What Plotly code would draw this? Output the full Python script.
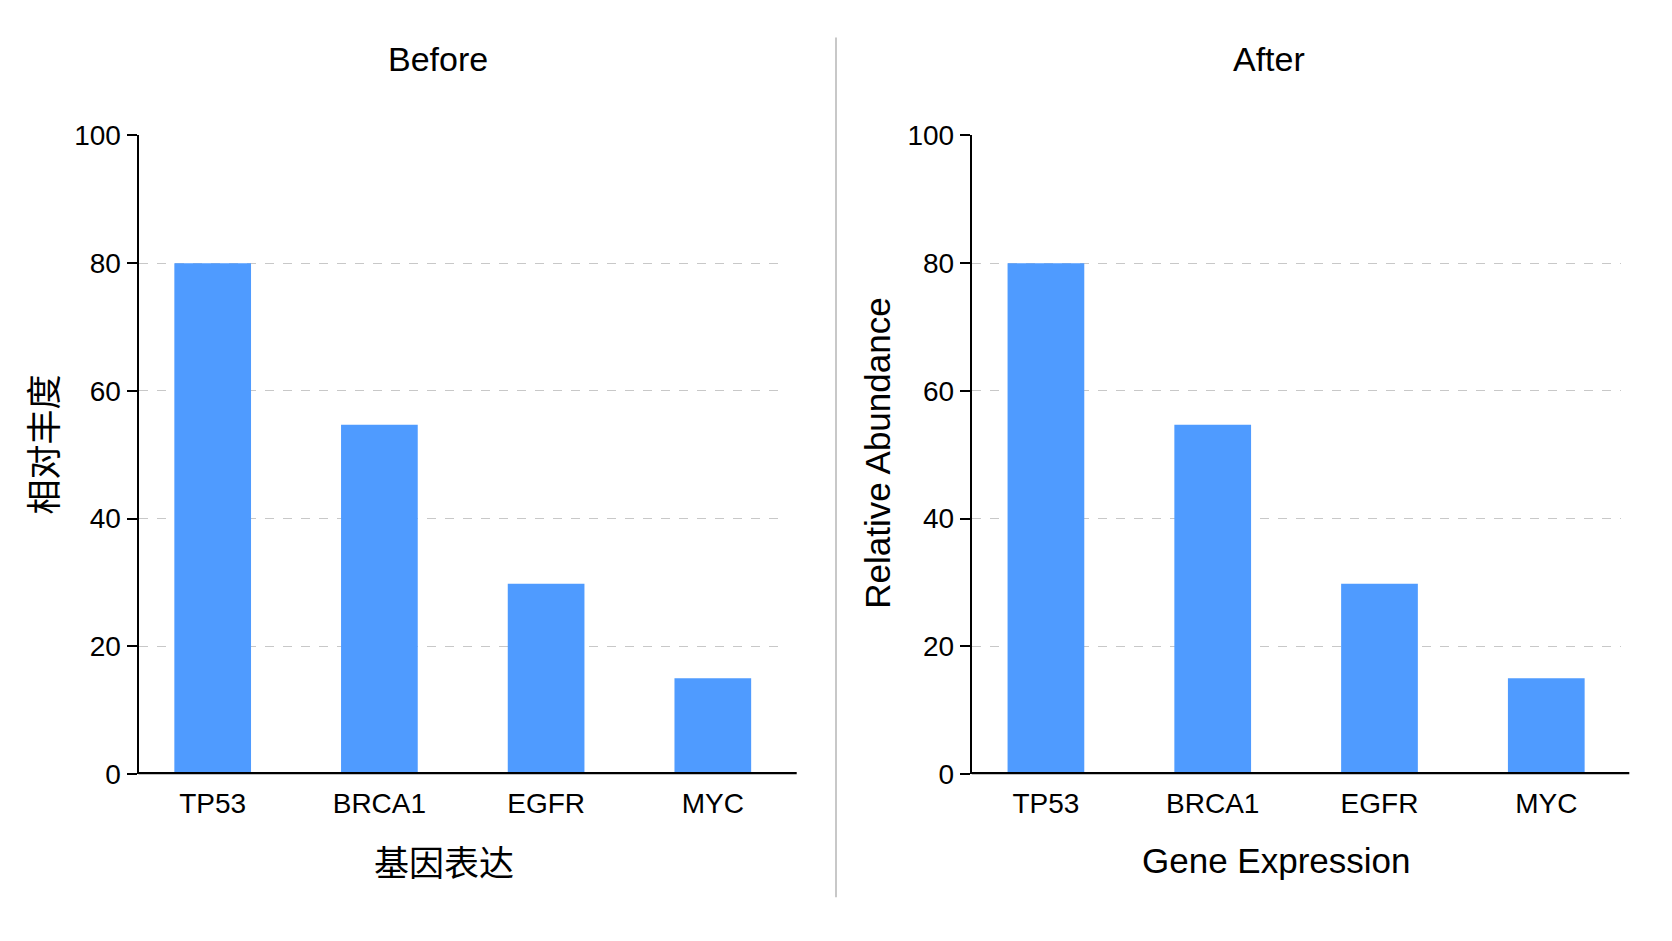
import plotly.graph_objects as go

# ---- data ----
genes = ["TP53", "BRCA1", "EGFR", "MYC"]
before_values = [80, 54.7, 29.8, 15]
after_values = [80, 54.7, 29.8, 15]
y_ticks = [0, 20, 40, 60, 80, 100]
panel_titles = ["Before", "After"]
x_titles = ["基因表达", "Gene Expression"]
y_titles = ["相对丰度", "Relative Abundance"]

W, H = 1672, 941
# the captured picture maps paper rows as: shown = 13.5 + 0.9695 * paper_px
def px(x):
    return x / W
def py(y):
    return 1 - (y - 13.5) / (0.9695 * H)

BAR = "#4F9BFF"
LAT = "Liberation Sans, Arial, Helvetica, sans-serif"
CJK = "Noto Sans CJK SC, sans-serif"

fig = go.Figure()
fig.add_trace(go.Bar(x=genes, y=before_values, marker=dict(color=BAR, line=dict(width=0)),
                     width=0.46, xaxis="x", yaxis="y", showlegend=False))
fig.add_trace(go.Bar(x=genes, y=after_values, marker=dict(color=BAR, line=dict(width=0)),
                     width=0.46, xaxis="x2", yaxis="y2", showlegend=False))

y_top, y_bot = 134.3, 774.3
panels = [(138.5, 787.0), (971.7, 1620.5)]

def xax(dom, anchor):
    return dict(domain=[px(dom[0]), px(dom[1])], anchor=anchor, type="category",
                range=[-0.445, 3.445], showline=False, ticks="", showgrid=False,
                zeroline=False, tickfont=dict(family=LAT, size=28, color="black"),
                ticklabelstandoff=10)

def yax(anchor):
    return dict(domain=[py(y_bot), py(y_top)], anchor=anchor, range=[0, 100],
                tickvals=y_ticks, ticks="outside", ticklen=10, tickwidth=2, tickcolor="black",
                showline=True, linewidth=2, linecolor="black", showgrid=True,
                gridcolor="#c8c8c8", griddash="dash", gridwidth=1.3, zeroline=False,
                tickfont=dict(family=LAT, size=28, color="black"))

fig.update_layout(
    width=W, height=H, margin=dict(l=0, r=0, t=0, b=0),
    paper_bgcolor="white", plot_bgcolor="white", bargap=0.5,
    xaxis=xax(panels[0], "y"), yaxis=yax("x"),
    xaxis2=xax(panels[1], "y2"), yaxis2=yax("x2"),
)

shapes = []
for (x0, x1), ext in zip(panels, [796.7, 1629.3]):
    shapes.append(dict(type="line", xref="paper", yref="paper", x0=px(x0), x1=px(ext),
                       y0=py(773.5), y1=py(773.5), line=dict(color="black", width=2.2)))
shapes.append(dict(type="line", xref="paper", yref="paper", x0=px(836), x1=px(836),
                   y0=py(36), y1=py(898), line=dict(color="#c8c8c8", width=2)))
fig.update_layout(shapes=shapes)

ann = []
for cx, t in zip([437.8, 1268.5], panel_titles):
    ann.append(dict(text=t, x=px(cx), y=py(58), xref="paper", yref="paper",
                    xanchor="center", yanchor="middle", showarrow=False,
                    font=dict(family=LAT, size=34, color="black")))
ann.append(dict(text=x_titles[0], x=px(443.6), y=py(861), xref="paper", yref="paper",
                xanchor="center", yanchor="middle", showarrow=False,
                font=dict(family=CJK, size=35, color="black")))
ann.append(dict(text=x_titles[1], x=px(1275.5), y=py(861), xref="paper", yref="paper",
                xanchor="center", yanchor="middle", showarrow=False,
                font=dict(family=LAT, size=35, color="black")))
ann.append(dict(text=y_titles[0], x=px(41), y=py(444), xref="paper", yref="paper",
                xanchor="center", yanchor="middle", showarrow=False, textangle=-90,
                font=dict(family=CJK, size=35, color="black")))
ann.append(dict(text=y_titles[1], x=px(878), y=py(453.3), xref="paper", yref="paper",
                xanchor="center", yanchor="middle", showarrow=False, textangle=-90,
                font=dict(family=LAT, size=35, color="black")))
fig.update_layout(annotations=ann)

fig.write_html("out.html")
